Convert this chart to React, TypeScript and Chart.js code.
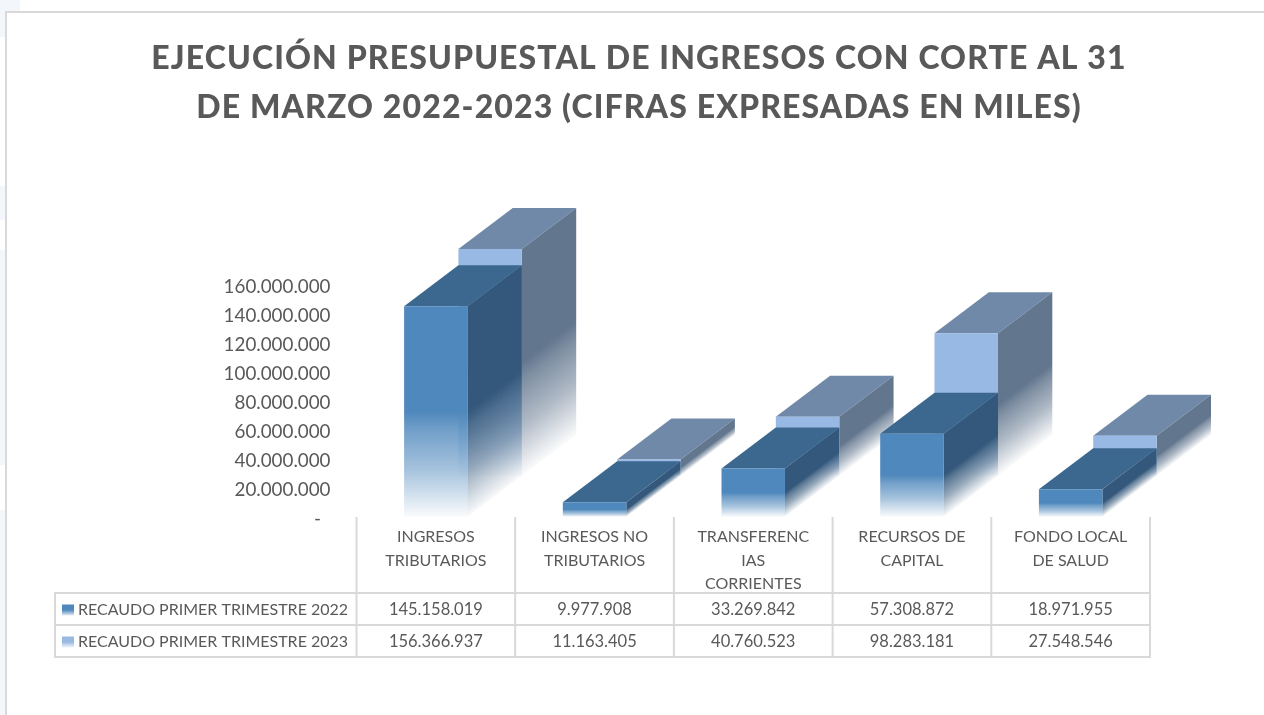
import React, { useEffect, useRef } from "react";
import { Chart, registerables } from "chart.js";

Chart.register(...registerables);

const titleLines = [
  "EJECUCIÓN PRESUPUESTAL DE INGRESOS CON CORTE AL 31",
  "DE MARZO 2022-2023 (CIFRAS EXPRESADAS EN MILES)",
];
const categories = [
  ["INGRESOS", "TRIBUTARIOS"],
  ["INGRESOS NO", "TRIBUTARIOS"],
  ["TRANSFERENC", "IAS", "CORRIENTES"],
  ["RECURSOS DE", "CAPITAL"],
  ["FONDO LOCAL", "DE SALUD"],
];
const series2022 = [145158019, 9977908, 33269842, 57308872, 18971955];
const series2023 = [156366937, 11163405, 40760523, 98283181, 27548546];
const seriesNames = ["RECAUDO PRIMER TRIMESTRE 2022", "RECAUDO PRIMER TRIMESTRE 2023"];

const FONT = "Lato, 'Open Sans', sans-serif";
const TEXT = "#595959";
const LINE = "#d9d9d9";
const DEPTH_X = 54.3;
const DEPTH_Y = -41;

const palette = [
  { front: [79, 136, 188], top: "#3c688f", side: [52, 88, 123] },
  { front: [152, 185, 227], top: "#7089a9", side: [98, 118, 142] },
];

const rgba = (c: number[], a: number) => `rgba(${c[0]},${c[1]},${c[2]},${a})`;

function addFade(g: CanvasGradient, c: number[]) {
  g.addColorStop(0, rgba(c, 0.03));
  g.addColorStop(0.22, rgba(c, 0.5));
  g.addColorStop(0.42, rgba(c, 0.82));
  g.addColorStop(0.5, rgba(c, 1));
  g.addColorStop(1, rgba(c, 1));
}

function frontFill(seriesIndex: number) {
  return (ctx: any) => {
    const chart = ctx.chart;
    const y = chart.scales.y;
    const solid = rgba(palette[seriesIndex].front, 1);
    if (!y || typeof ctx.raw !== "number") return solid;
    const y0 = y.getPixelForValue(0);
    const y1 = y.getPixelForValue(ctx.raw);
    if (!Number.isFinite(y0) || !Number.isFinite(y1)) return solid;
    const g = chart.ctx.createLinearGradient(0, y0, 0, y1);
    addFade(g, palette[seriesIndex].front);
    return g;
  };
}

const bars3d = {
  id: "bars3d",
  beforeDatasetDraw(chart: any, args: any) {
    const ctx = chart.ctx;
    const p = palette[args.index];
    ctx.save();
    if (args.index === 1) ctx.translate(DEPTH_X, DEPTH_Y);
    const len = Math.hypot(DEPTH_X, DEPTH_Y);
    args.meta.data.forEach((bar: any) => {
      const left = bar.x - bar.width / 2;
      const right = bar.x + bar.width / 2;
      // top face
      ctx.fillStyle = p.top;
      ctx.beginPath();
      ctx.moveTo(left, bar.y);
      ctx.lineTo(left + DEPTH_X, bar.y + DEPTH_Y);
      ctx.lineTo(right + DEPTH_X, bar.y + DEPTH_Y);
      ctx.lineTo(right, bar.y);
      ctx.closePath();
      ctx.fill();
      // side face: the fade runs parallel to its slanted bottom edge
      const h = bar.base - bar.y;
      const reach = (h * DEPTH_X) / len;
      const nx = DEPTH_Y / len;
      const ny = -DEPTH_X / len;
      const g = ctx.createLinearGradient(right, bar.base, right + nx * reach, bar.base + ny * reach);
      addFade(g, p.side);
      ctx.fillStyle = g;
      ctx.beginPath();
      ctx.moveTo(right, bar.y);
      ctx.lineTo(right + DEPTH_X, bar.y + DEPTH_Y);
      ctx.lineTo(right + DEPTH_X, bar.base + DEPTH_Y);
      ctx.lineTo(right, bar.base);
      ctx.closePath();
      ctx.fill();
    });
  },
  afterDatasetDraw(chart: any) {
    chart.ctx.restore();
  },
};

const pageFrame = {
  id: "pageFrame",
  beforeDraw(chart: any) {
    const ctx = chart.ctx;
    ctx.save();
    ctx.fillStyle = "#f3f6fb";
    ctx.fillRect(0, 0, 20, 11);
    ctx.fillRect(0, 0, 5, 37);
    ctx.fillRect(0, 186, 5, 34);
    ctx.fillRect(0, 250, 5, 215);
    ctx.fillRect(0, 510, 5, 205);
    ctx.fillStyle = LINE;
    ctx.fillRect(5, 11, 1259, 2);
    ctx.fillRect(5, 11, 2, 704);
    ctx.restore();
    const title = chart.titleBlock;
    if (title && !title.__spaced) {
      const draw = title.draw.bind(title);
      title.draw = () => {
        ctx.letterSpacing = "1.12px";
        draw();
        ctx.letterSpacing = "0px";
      };
      title.__spaced = true;
    }
  },
};

const dataTable = {
  id: "dataTable",
  afterDraw(chart: any) {
    const ctx = chart.ctx;
    const x = chart.scales.x;
    const band = x.getPixelForTick(1) - x.getPixelForTick(0);
    const edgeLeft = x.getPixelForTick(0) - band / 2;
    const edgeRight = x.getPixelForTick(categories.length - 1) + band / 2;
    const rowLines = [593, 625, 657];
    const rows = [series2022, series2023];
    ctx.save();
    ctx.fillStyle = LINE;
    for (let i = 0; i <= categories.length; i++) {
      ctx.fillRect(edgeLeft + band * i - 1, 517, 2, 141);
    }
    ctx.fillRect(54, 592, 2, 66);
    rowLines.forEach((y) => ctx.fillRect(54, y - 1, edgeRight - 54 + 1, 2));
    ctx.textBaseline = "middle";
    rows.forEach((values, r) => {
      const y = rowLines[r] + 16.5;
      const key = ctx.createLinearGradient(0, y - 5, 0, y + 6);
      key.addColorStop(0, rgba(palette[r].front, 1));
      key.addColorStop(0.5, rgba(palette[r].front, 1));
      key.addColorStop(1, rgba(palette[r].front, 0.15));
      ctx.fillStyle = key;
      ctx.fillRect(62, y - 5, 12, 11);
      ctx.fillStyle = TEXT;
      ctx.textAlign = "left";
      ctx.font = `16px ${FONT}`;
      ctx.fillText(seriesNames[r], 78, y);
      ctx.textAlign = "center";
      ctx.font = `16.5px ${FONT}`;
      values.forEach((v, i) => {
        ctx.fillText(new Intl.NumberFormat("de-DE").format(v), x.getPixelForTick(i), y);
      });
    });
    ctx.restore();
  },
};

export default function App() {
  const ref = useRef<HTMLCanvasElement>(null);
  useEffect(() => {
    document.body.style.margin = "0";
    document.body.style.background = "#fff";
    const chart = new Chart(ref.current!, {
      type: "bar",
      data: {
        labels: categories as any,
        datasets: [
          {
            label: seriesNames[0],
            data: series2022,
            backgroundColor: frontFill(0),
            borderWidth: 0,
            clip: false,
          } as any,
          {
            label: seriesNames[1],
            data: series2023,
            backgroundColor: frontFill(1),
            borderWidth: 0,
            clip: false,
          } as any,
        ],
      },
      options: {
        responsive: false,
        devicePixelRatio: 1,
        animation: false,
        grouped: false,
        barPercentage: 0.4,
        categoryPercentage: 1,
        layout: { padding: { left: 128, right: 114, top: 0, bottom: 58 } },
        plugins: {
          legend: { display: false },
          tooltip: { enabled: false },
          title: {
            display: true,
            text: titleLines,
            color: TEXT,
            font: { family: FONT, size: 32, weight: "900", lineHeight: 1.53 },
            padding: { top: 34.5, bottom: 152.4 },
          },
        },
        scales: {
          x: {
            grid: { display: false },
            border: { display: false },
            afterFit: (s: any) => {
              s.height = 140.2;
            },
            ticks: {
              color: TEXT,
              font: { family: FONT, size: 16, lineHeight: 1.44 },
              padding: 1,
              maxRotation: 0,
              minRotation: 0,
              autoSkip: false,
            },
          },
          y: {
            min: 0,
            max: 160000000,
            grid: { display: false },
            border: { display: false },
            afterFit: (s: any) => {
              s.width = 228.5;
            },
            ticks: {
              stepSize: 20000000,
              color: TEXT,
              font: { family: FONT, size: 18.8 },
              padding: 18,
              labelOffset: 2.5,
              callback: (v: any) => (v === 0 ? "-  " : new Intl.NumberFormat("de-DE").format(v)),
            },
          },
        },
      } as any,
      plugins: [pageFrame, bars3d, dataTable],
    });
    return () => chart.destroy();
  }, []);
  return <canvas ref={ref} width={1264} height={715} style={{ display: "block" }} />;
}
